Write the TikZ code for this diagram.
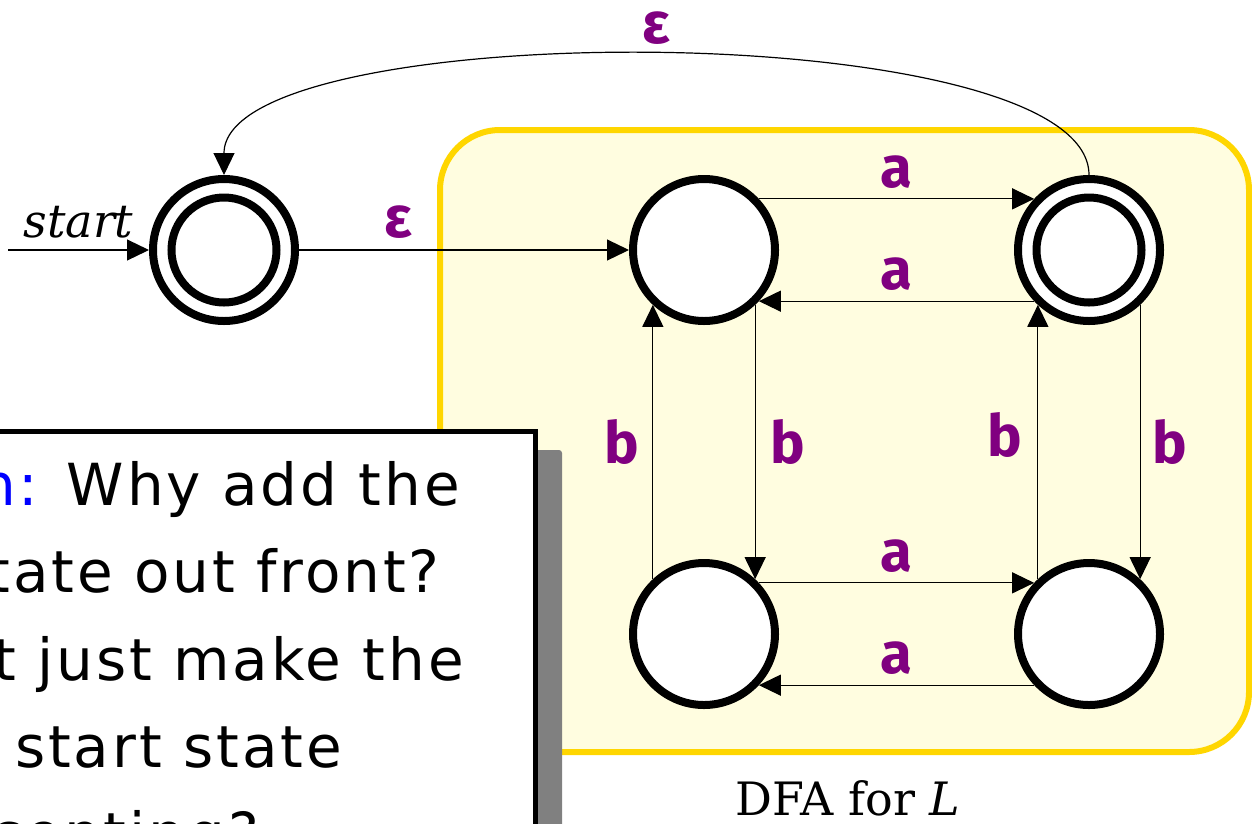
\documentclass[tikz,border=0pt]{standalone}
\usepackage{fontspec}
\setmainfont{DejaVu Serif}
\newfontfamily\lblfont{Fira Sans}
\newfontfamily\handfont[LetterSpace=5]{DejaVu Sans}
\usetikzlibrary{arrows.meta}
\definecolor{lblpurple}{RGB}{128,0,128}
\definecolor{boxyellow}{RGB}{255,253,224}
\definecolor{boxgold}{RGB}{255,214,0}
\definecolor{shadowgray}{RGB}{128,128,128}
\begin{document}
\begin{tikzpicture}[x=1pt,y=-1pt,
  state/.style={circle,draw,line width=8pt,fill=white,minimum size=142pt,inner sep=0pt},
  edge/.style={line width=1.2pt,-{Triangle[length=22pt,width=21pt]}},
  lbl/.style={text=lblpurple,font=\lblfont\bfseries\fontsize{58}{62}\selectfont,inner sep=0pt},
  hand/.style={font=\handfont\fontsize{58}{62}\selectfont,inner sep=0pt,anchor=base east}]
\useasboundingbox (0,0) rectangle (1252,823);
\clip (0,0) rectangle (1252,823);

% DFA region
\draw[boxgold,fill=boxyellow,line width=6pt,rounded corners=60pt] (440,130) rectangle (1249,752);
\node[font=\fontsize{46}{50}\selectfont,anchor=base] (cap) at (848,815) {DFA for \textit{L}};

% states
\node[state] (q0) at (224,250) {};
\node[state] (A) at (704,250) {};
\node[state] (B) at (1089,250) {};
\node[state] (C) at (704,634) {};
\node[state] (D) at (1089,634) {};
\draw[line width=8pt] (q0) circle[radius=52.5];
\draw[line width=8pt] (B) circle[radius=52.5];

% start
\coordinate (s) at (8,250);
\draw[edge] (s) -- node[pos=0.5,yshift=28pt,font=\itshape\fontsize{46}{50}\selectfont,inner sep=0pt]{start} (q0.west);

% transitions
\draw[edge] (q0.east) -- node[lbl,pos=0.3,yshift=28pt]{ε} (A.west);
\draw[edge] (A.43) -- node[lbl,midway,yshift=27pt]{a} (B.137);
\draw[edge] (B.-137) -- node[lbl,midway,yshift=27pt]{a} (A.-43);
\draw[edge] (A.-47) -- node[lbl,midway,xshift=33pt]{b} (C.47);
\draw[edge] (C.133) -- node[lbl,midway,xshift=-31pt]{b} (A.-133);
\draw[edge] (B.-47) -- node[lbl,midway,xshift=30pt]{b} (D.47);
\draw[edge] (D.133) -- node[lbl,midway,xshift=-33pt,yshift=7pt]{b} (B.-133);
\draw[edge] (C.43) -- node[lbl,midway,yshift=27pt]{a} (D.137);
\draw[edge] (D.-137) -- node[lbl,midway,yshift=27pt]{a} (C.-43);
\draw[edge] (B.north) .. controls (1089,15) and (224,15) .. node[lbl,midway,yshift=27pt]{ε} (q0.north);

% callout
\fill[shadowgray,rounded corners=3pt] (-100,450) rectangle (562,900);
\draw[line width=5pt,fill=white] (-100,431) rectangle (535,900);
\node[hand] (t1) at (460,505) {{\color{blue}Question:} Why add the};
\node[hand] (t2) at (440,592) {new state out front?};
\node[hand] (t3) at (464,680) {Why not just make the};
\node[hand] (t4) at (342,767) {old start state};
\node[hand] (t5) at (259,854) {accepting?};
\end{tikzpicture}
\end{document}
